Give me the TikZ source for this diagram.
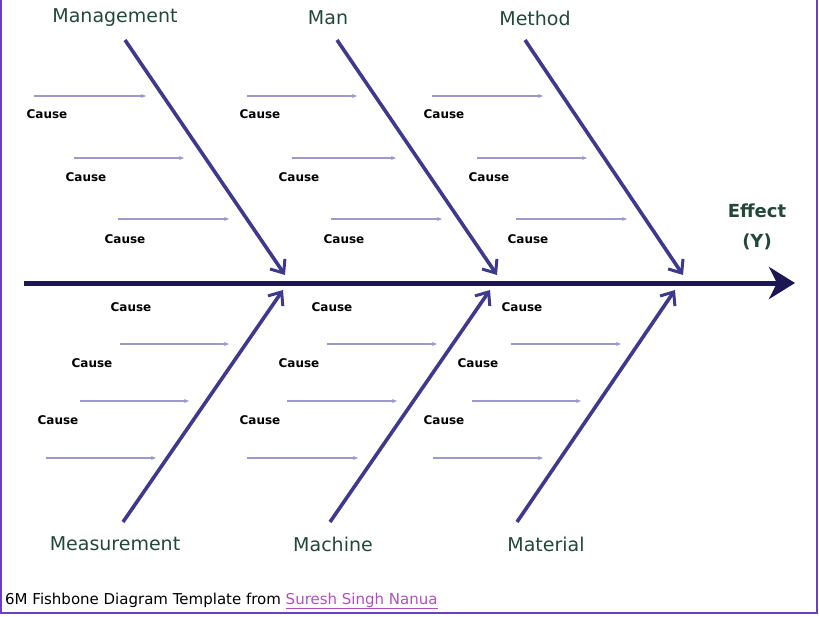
\documentclass[tikz,border=0pt]{standalone}
\usepackage{fontspec}
\setmainfont{DejaVu Sans}
\usetikzlibrary{arrows.meta}
\definecolor{spine}{HTML}{1C1752}
\definecolor{bone}{HTML}{3D3A8E}
\definecolor{small}{HTML}{9C9ACD}
\definecolor{lbl}{HTML}{23483A}
\definecolor{frame}{HTML}{6A3FC0}
\definecolor{link}{HTML}{B050C0}
\begin{document}
\begin{tikzpicture}[x=1pt,y=-1pt,
  bone/.style={draw=bone,line width=3.6pt,-{Straight Barb[length=11pt,width=18pt,line width=3pt]}},
  sm/.style={draw=small,line width=1.5pt,-{Stealth[length=5pt,width=4pt]}},
  cat/.style={text=lbl,font=\fontsize{19}{22}\selectfont},
  cause/.style={font=\bfseries\fontsize{12}{14}\selectfont}]
\path[use as bounding box] (0,0) rectangle (819,616);
\draw[frame,line width=1.2pt] (1,-2) -- (1,613) -- (817,613) -- (817,-2);
% spine
\coordinate (s0) at (24,283); \coordinate (s1) at (795,283);
\draw[spine,line width=5pt,-{Stealth[length=26pt,width=32pt,inset=8pt]}] (s0) -- (s1);
% top bones
\foreach \n/\a/\b in {t1/125/285,t2/337/497,t3/525/683}{
  \coordinate (\n a) at (\a,40); \coordinate (\n b) at (\b,275);
  \draw[bone] (\n a) -- (\n b);}
\foreach \n/\a/\b in {b1/123/283,b2/330/490,b3/517/675}{
  \coordinate (\n a) at (\a,522); \coordinate (\n b) at (\b,290);
  \draw[bone] (\n a) -- (\n b);}
\node[cat] (management) at (115,18) {Management};
\node[cat] (man) at (328,18) {Man};
\node[cat] (method) at (535,18) {Method};
\node[cat] (measurement) at (115,544) {Measurement};
\node[cat] (machine) at (333,544) {Machine};
\node[cat] (material) at (546,544) {Material};
\node[cat,font=\bfseries\fontsize{18}{22}\selectfont] (effect) at (757,211) {Effect};
\node[cat,font=\bfseries\fontsize{18}{22}\selectfont] (y) at (757,242) {(Y)};
% small arrows
\foreach \i/\xa/\xb/\yy in {1/34/146/96,2/247/357/96,3/432/543/96,
  4/74/184/158,5/292/396/158,6/477/587/158,
  7/118/229/219,8/331/442/219,9/516/627/219,
  10/120/229/344,11/327/437/344,12/511/621/344,
  13/80/189/401,14/287/397/401,15/472/581/401,
  16/46/156/458,17/247/358/458,18/433/543/458}{
  \coordinate (a\i) at (\xa,\yy); \coordinate (b\i) at (\xb,\yy);
  \draw[sm] (a\i) -- (b\i);}
% causes
\foreach \i/\xx/\yy in {1/47/114,2/260/114,3/444/114,4/86/177,5/299/177,6/489/177,
  7/125/239,8/344/239,9/528/239,10/131/307,11/332/307,12/522/307,
  13/92/363,14/299/363,15/478/363,16/58/420,17/260/420,18/444/420}{
  \node[cause] (c\i) at (\xx,\yy) {Cause};}
\node[anchor=west,font=\fontsize{15}{17}\selectfont,inner sep=0pt] (foot) at (5,601)
  {6M Fishbone Diagram Template from \textcolor{link}{\underline{Suresh Singh Nanua}}};
\end{tikzpicture}
\end{document}
